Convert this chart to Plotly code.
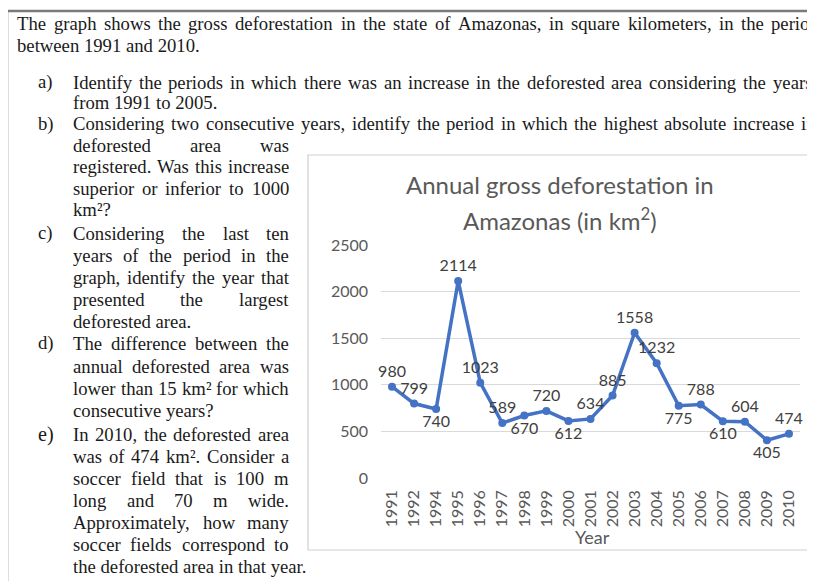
import plotly.graph_objects as go

# ---------------- data ----------------
years = ["1991", "1992", "1994", "1995", "1996", "1997", "1998", "1999", "2000", "2001",
         "2002", "2003", "2004", "2005", "2006", "2007", "2008", "2009", "2010"]
area_km2 = [980, 799, 740, 2114, 1023, 589, 670, 720, 612, 634,
            885, 1558, 1232, 775, 788, 610, 604, 405, 474]
label_side = ["top", "top", "bottom", "top", "top", "top", "bottom", "top", "bottom", "top",
              "top", "top", "top", "bottom", "top", "bottom", "top", "bottom", "top"]
y_ticks = [0, 500, 1000, 1500, 2000, 2500]

chart_title_1 = "Annual gross deforestation in"
chart_title_2 = "Amazonas (in km<sup>2</sup>)"
x_title = "Year"

intro_lines = [
    ("The graph shows the gross deforestation in the state of Amazonas, in square kilometers, in the period", 819),
    ("between 1991 and 2010.", None),
]
item_marks = ["a)", "b)", "c)", "d)", "e)"]
# (text, justify-to right edge in px or None)
COL = 289
body_lines = [
    ("Identify the periods in which there was an increase in the deforested area considering the years", 812),
    ("from 1991 to 2005.", None),
    ("Considering two consecutive years, identify the period in which the highest absolute increase in", 816),
    ("deforested area was", COL),
    ("registered. Was this increase", COL),
    ("superior or inferior to 1000", COL),
    ("km²?", None),
    ("Considering the last ten", COL),
    ("years of the period in the", COL),
    ("graph, identify the year that", COL),
    ("presented the largest", COL),
    ("deforested area.", None),
    ("The difference between the", COL),
    ("annual deforested area was", COL),
    ("lower than 15 km² for which", COL),
    ("consecutive years?", None),
    ("In 2010, the deforested area", COL),
    ("was of 474 km². Consider a", COL),
    ("soccer field that is 100 m", COL),
    ("long and 70 m wide.", COL),
    ("Approximately, how many", COL),
    ("soccer fields correspond to", COL),
    ("the deforested area in that year.", None),
]

# ---------------- geometry (reference-page pixels) ----------------
OFF = 8                      # page body margin of the browser
W, H = 815 - OFF, 581 - OFF
PL, PR, PT, PB = 381, 800, 245, 478        # plot area in page pixels
ML, MT = PL - OFF, PT - OFF
MR, MB = W - (PR - OFF), H - (PB - OFF)
PW, PH = PR - PL, PB - PT


def px(x):
    return (x - OFF - ML) / PW


def py(y):
    return (MT + PH - (y - OFF)) / PH


intro_y = [23, 45]
item_y = [82, 124, 233, 343, 434]
body_y = [82, 103, 124, 145, 167, 188, 209, 233, 255, 277, 299, 321,
          343, 366, 388, 410, 434, 456, 478, 500, 522, 544, 566]
TXT_SIZE = 18.7
SERIF = "Liberation Serif"

# Times metrics (1/1000 em) for justification
TW = {' ': 250, ',': 250, '.': 250, '?': 444, '²': 300, '0': 500, '1': 500, '2': 500, '3': 500,
      '4': 500, '5': 500, '6': 500, '7': 500, '8': 500, '9': 500,
      'A': 722, 'C': 667, 'I': 333, 'T': 611, 'W': 944,
      'a': 444, 'b': 500, 'c': 444, 'd': 500, 'e': 444, 'f': 333, 'g': 500, 'h': 500, 'i': 278,
      'j': 278, 'k': 500, 'l': 278, 'm': 778, 'n': 500, 'o': 500, 'p': 500, 'q': 500, 'r': 333,
      's': 389, 't': 278, 'u': 500, 'v': 500, 'w': 722, 'x': 500, 'y': 500, 'z': 444}


def tw(s):
    return sum(TW.get(c, 500) for c in s) / 1000.0 * TXT_SIZE


annotations = []


def add_text(text, x, y, size=TXT_SIZE, family=SERIF, color="#1a1a1a", anchor="left"):
    annotations.append(dict(text=text, x=px(x), y=py(y), xref="paper", yref="paper",
                            xanchor=anchor, yanchor="middle", showarrow=False,
                            borderpad=0, borderwidth=0,
                            font=dict(family=family, size=size, color=color)))


def add_line(text, x0, y, right):
    if right is None:
        add_text(text, x0, y)
        return
    words = text.split()
    total = sum(tw(w) for w in words)
    gap = (right - x0 - total) / (len(words) - 1)
    cx = x0
    for w in words:
        add_text(w, cx, y)
        cx += tw(w) + gap


for (t, r), y in zip(intro_lines, intro_y):
    add_line(t, 17, y, r)
for t, y in zip(item_marks, item_y):
    add_text(t, 38, y, size=TXT_SIZE + (1.5 if t == "e)" else 0))
for (t, r), y in zip(body_lines, body_y):
    add_line(t, 73, y, r)

# chart texts
GREY = "#595959"
add_text(chart_title_1, 560, 185, size=24, family="Lato", color=GREY, anchor="center")
add_text(chart_title_2, 560, 219, size=24, family="Lato", color=GREY, anchor="center")
add_text(x_title, 592, 537, size=18, family="Lato", color=GREY, anchor="center")

shapes = [
    # outer document frame
    dict(type="rect", xref="paper", yref="paper", x0=px(7), x1=px(860), y0=py(11), y1=py(640),
         line=dict(color="#7a7a7a", width=2.5), layer="below"),
    # chart frame
    dict(type="rect", xref="paper", yref="paper", x0=px(308), x1=px(813), y0=py(155), y1=py(550),
         line=dict(color="#D0D0D0", width=1.2), layer="below"),
]

fig = go.Figure()
fig.add_trace(go.Scatter(
    x=years, y=area_km2, mode="lines+markers+text",
    text=[str(v) for v in area_km2],
    textposition=[s + " center" for s in label_side],
    textfont=dict(family="Lato", size=16, color="#404040"),
    line=dict(color="#4472C4", width=3.5),
    marker=dict(size=8, color="#4472C4"),
    cliponaxis=False, hoverinfo="skip",
))

fig.update_layout(
    width=W, height=H,
    margin=dict(l=ML, r=MR, t=MT, b=MB, pad=0),
    paper_bgcolor="white", plot_bgcolor="white",
    showlegend=False,
    annotations=annotations,
    shapes=shapes,
    xaxis=dict(type="category", categoryorder="array", categoryarray=years,
               range=[-0.5, len(years) - 0.5], tickangle=-90,
               showgrid=False, showline=False, zeroline=False, ticks="",
               ticklabelstandoff=8,
               tickfont=dict(family="Lato", size=16, color=GREY)),
    yaxis=dict(range=[0, 2500], tickvals=y_ticks, showgrid=True, gridcolor="#D9D9D9",
               gridwidth=1, showline=False, zeroline=False, ticks="",
               ticklabelstandoff=12,
               tickfont=dict(family="Lato", size=16, color=GREY)),
)

fig.write_html("out.html")
